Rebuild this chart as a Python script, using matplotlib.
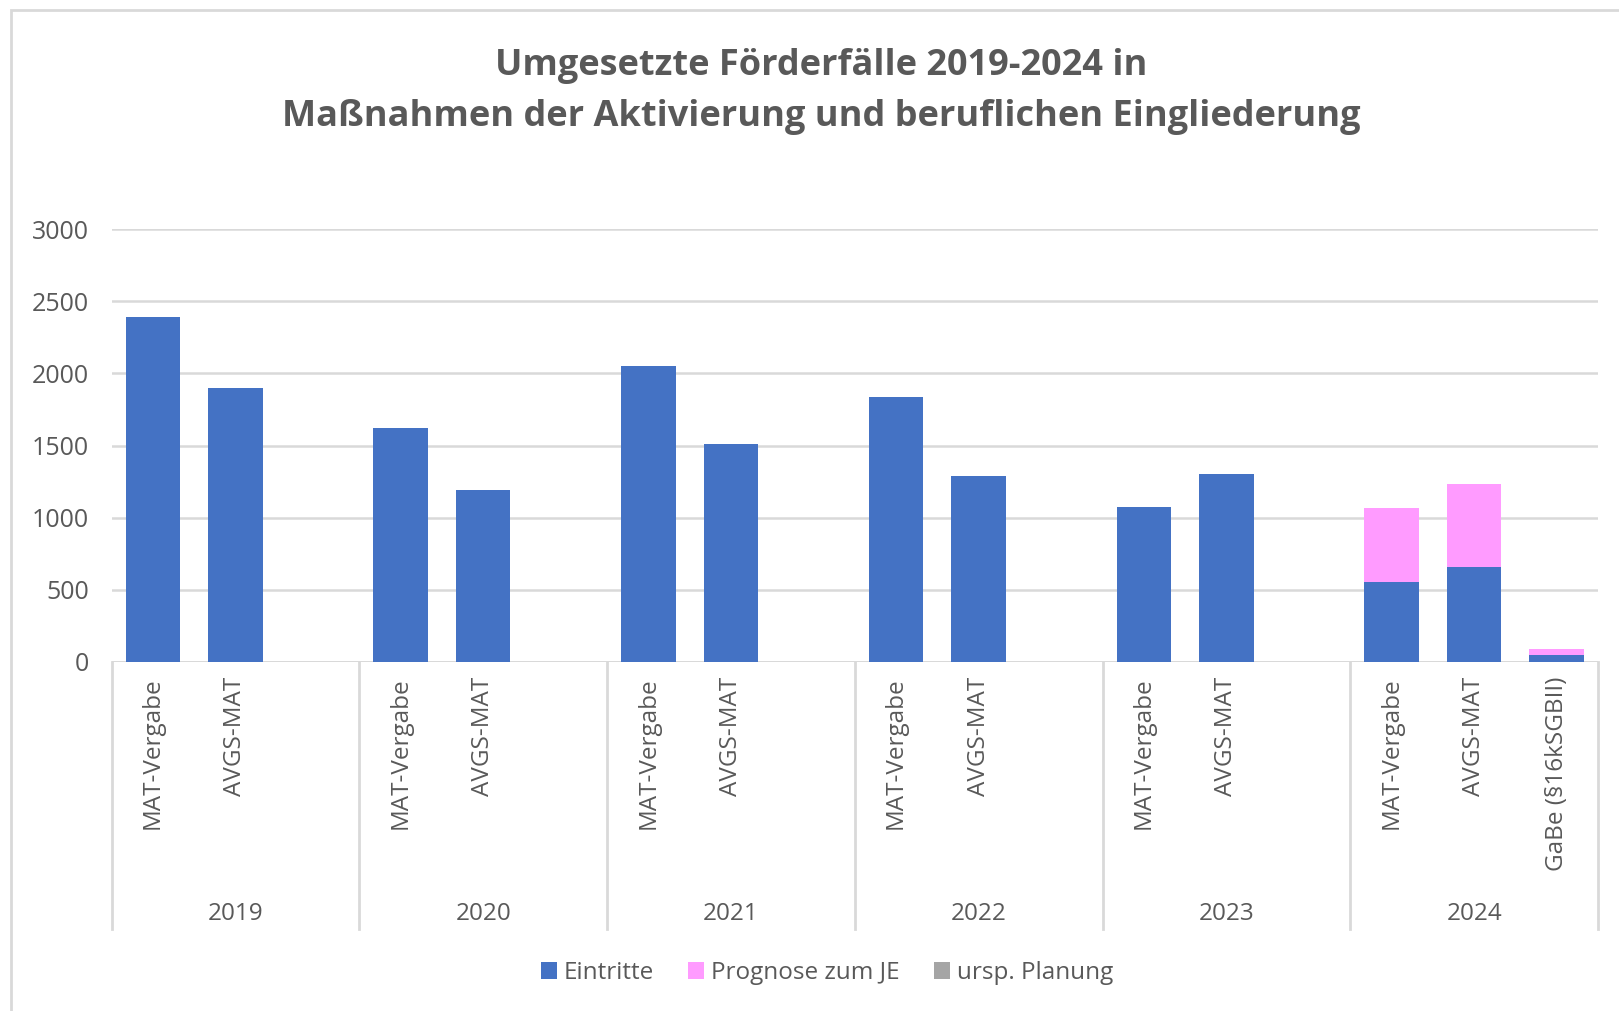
import matplotlib
matplotlib.use("Agg")
import matplotlib.pyplot as plt
from matplotlib.patches import Patch, Rectangle
import numpy as np

plt.rcParams['font.family'] = ['Open Sans', 'DejaVu Sans']

# ---- data ----
years = ["2019", "2020", "2021", "2022", "2023", "2024"]
slot_labels = ["MAT-Vergabe", "AVGS-MAT", "",
               "MAT-Vergabe", "AVGS-MAT", "",
               "MAT-Vergabe", "AVGS-MAT", "",
               "MAT-Vergabe", "AVGS-MAT", "",
               "MAT-Vergabe", "AVGS-MAT", "",
               "MAT-Vergabe", "AVGS-MAT", "GaBe (§16kSGBII)"]
eintritte = [2390, 1900, 0,
             1625, 1195, 0,
             2053, 1510, 0,
             1838, 1288, 0,
             1073, 1302, 0,
             556, 658, 48]
prognose = [0, 0, 0,
            0, 0, 0,
            0, 0, 0,
            0, 0, 0,
            0, 0, 0,
            508, 572, 40]
ursp_planung = [0] * 18
series_names = ["Eintritte", "Prognose zum JE", "ursp. Planung"]
colors = ["#4472C4", "#FF9BFF", "#A5A5A5"]
yticks = [0, 500, 1000, 1500, 2000, 2500, 3000]

TXT = "#595959"
GRID = "#D9D9D9"
FS = 17.5

W, H = 1619, 1011
fig = plt.figure(figsize=(W / 100, H / 100), dpi=100)

# chart frame
fig.patches.append(Rectangle((11 / W, -0.1), 1.2, 1 - 10 / H + 0.1, transform=fig.transFigure,
                             fill=False, edgecolor=GRID, lw=2.0))

ax_l, ax_r = 111.5, 1598
ax_t, ax_b = 229.3, 661.8
ax = fig.add_axes([ax_l / W, 1 - ax_b / H, (ax_r - ax_l) / W, (ax_b - ax_t) / H])

x = np.arange(len(slot_labels))
bw = 0.66
ax.bar(x, eintritte, bw, color=colors[0], zorder=3)
ax.bar(x, prognose, bw, bottom=eintritte, color=colors[1], zorder=3)
bottom2 = [a + b for a, b in zip(eintritte, prognose)]
ax.bar(x, ursp_planung, bw, bottom=bottom2, color=colors[2], zorder=3)

ax.set_xlim(-0.5, len(slot_labels) - 0.5)
ax.set_ylim(0, 3000)
ax.set_yticks(yticks)
ax.yaxis.grid(True, color=GRID, lw=1.8, zorder=0)
ax.set_axisbelow(True)
for s in ax.spines.values():
    s.set_visible(False)
ax.tick_params(axis='y', length=0, pad=16, labelsize=18, labelcolor=TXT)
ax.set_xticks(x)
ax.set_xticklabels(slot_labels, rotation=90, ha='center', va='top')
ax.tick_params(axis='x', length=0, pad=11, labelsize=FS, labelcolor=TXT)

# axis line
ax.axhline(0, color=GRID, lw=2.0, zorder=2)

# multi-level separators and year labels
axh = ax_b - ax_t
sep_bottom = -(929 - ax_b) / axh
year_y = -(914 - ax_b) / axh
tr = ax.get_xaxis_transform()
for g in range(len(years) + 1):
    xs = g * 3 - 0.5
    ax.plot([xs, xs], [0, sep_bottom], color=GRID, lw=2.0, transform=tr, clip_on=False)
for g, yr in enumerate(years):
    ax.text(g * 3 + 1, year_y, yr, transform=tr, ha='center', va='center',
            fontsize=FS, color=TXT)

# title
fig.text(821 / W, 1 - 66 / H, "Umgesetzte Förderfälle 2019-2024 in", ha='center', va='center',
         fontsize=26, fontweight='bold', color=TXT)
fig.text(821 / W, 1 - 117 / H, "Maßnahmen der Aktivierung und beruflichen Eingliederung",
         ha='center', va='center', fontsize=26, fontweight='bold', color=TXT)

# legend
handles = [Patch(facecolor=c, edgecolor='none') for c in colors]
fig.legend(handles, series_names, loc='center', bbox_to_anchor=(827 / W, 1 - 973 / H),
           ncol=3, frameon=False, fontsize=FS, labelcolor=TXT, handlelength=0.65,
           handleheight=0.65, handletextpad=0.3, columnspacing=1.4)

fig.savefig("out.png", dpi=100)
